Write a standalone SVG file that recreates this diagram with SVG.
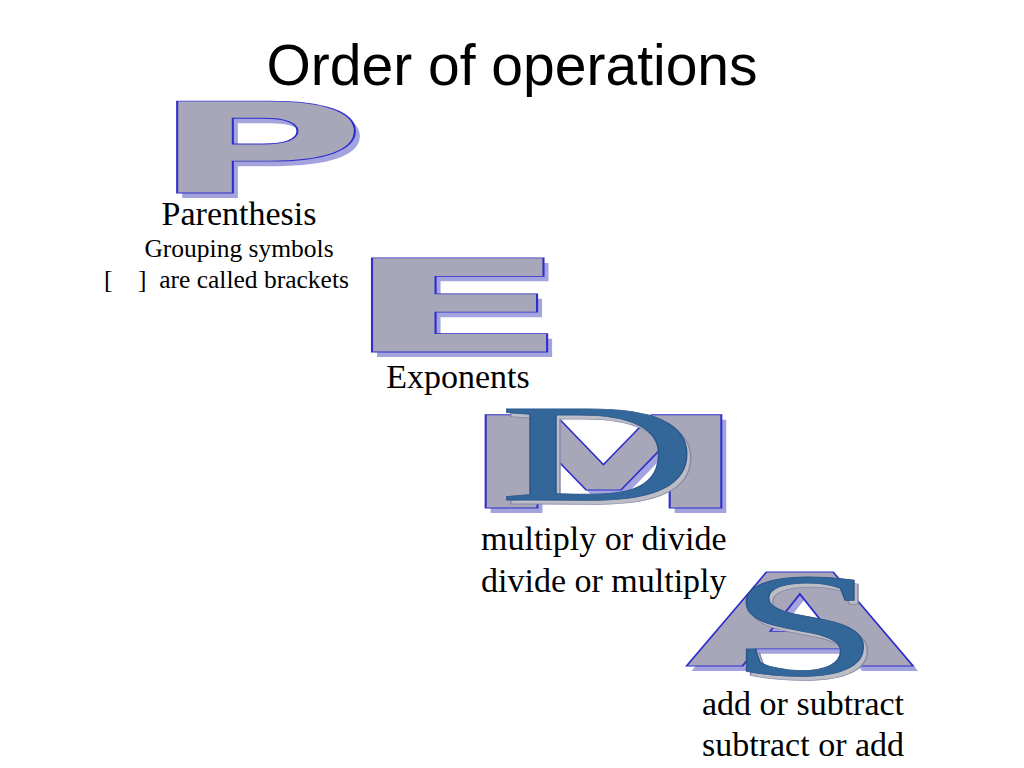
<svg xmlns="http://www.w3.org/2000/svg" width="1024" height="768" viewBox="0 0 1024 768">
<style>
.title{font-family:"Liberation Sans",Arial,sans-serif;font-size:57px;fill:#000}
.lbl{font-family:"Liberation Serif","Times New Roman",serif;font-size:34px;fill:#000}
.sm{font-family:"Liberation Serif","Times New Roman",serif;font-size:25.5px;fill:#000}
.big{font-family:"DejaVu Sans","Liberation Sans",sans-serif;font-weight:bold}
.gray{fill:#A7A7B9;stroke:#2E2ECC;stroke-width:1.6;vector-effect:non-scaling-stroke}
.gsh{fill:#A3A3DE;stroke:none}
.ser{font-family:"Liberation Serif","Times New Roman",serif;font-weight:normal}
.blue{fill:#336699;stroke:#2A5588;stroke-width:1.2;vector-effect:non-scaling-stroke}
.bsh{fill:#BDBDC6;stroke:#8888AA;stroke-width:1.2;vector-effect:non-scaling-stroke}
</style>
<rect width="1024" height="768" fill="#fff"/>
<text class="title" x="512" y="85" text-anchor="middle">Order of operations</text>

<g id="node-P">
<text class="big gsh" font-size="126" transform="translate(155,198) scale(2.35,1)">P</text>
<text class="big gray" font-size="126" transform="translate(150,193) scale(2.35,1)">P</text>
<text class="lbl" x="239" y="225" text-anchor="middle">Parenthesis</text>
<text class="sm" x="239" y="257" text-anchor="middle">Grouping symbols</text>
<text class="sm" x="104" y="288" xml:space="preserve">[    ]  are called brackets</text>
</g>

<g id="node-E">
<text class="big gsh" font-size="129" transform="translate(346,357) scale(2.62,1)">E</text>
<text class="big gray" font-size="129" transform="translate(341,352) scale(2.62,1)">E</text>
<text class="lbl" x="458" y="388" text-anchor="middle">Exponents</text>
</g>

<g id="node-MD">
<text class="big gsh" font-size="128" transform="translate(464,513) scale(2.27,1)">M</text>
<text class="big gray" font-size="128" transform="translate(459,508) scale(2.27,1)">M</text>
<text class="ser bsh" font-size="139" transform="translate(503,504) scale(1.98,1)">D</text>
<text class="ser blue" font-size="139" transform="translate(499,500) scale(1.98,1)">D</text>
<text class="lbl" x="481" y="550">multiply or divide</text>
<text class="lbl" x="481" y="592">divide or multiply</text>
</g>

<g id="node-AS">
<text class="big gsh" font-size="129" transform="translate(690,671) scale(2.3,1)">A</text>
<text class="big gray" font-size="129" transform="translate(685,666) scale(2.3,1)">A</text>
<text class="ser bsh" font-size="148" transform="translate(732,679) scale(1.85,1)">S</text>
<text class="ser blue" font-size="148" transform="translate(728,675) scale(1.85,1)">S</text>
<text class="lbl" x="702" y="715">add or subtract</text>
<text class="lbl" x="702" y="756">subtract or add</text>
</g>

<g id="connectors"></g>
</svg>
